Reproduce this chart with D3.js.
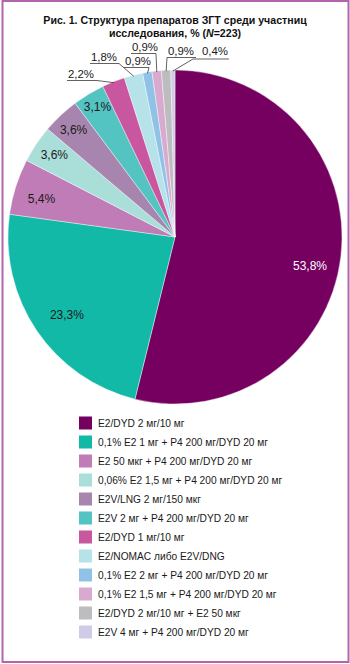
<!DOCTYPE html>
<html>
<head>
<meta charset="utf-8">
<script src="https://cdn.jsdelivr.net/npm/d3@7"></script>
<style>
  html, body { margin: 0; padding: 0; background: #fff; }
  svg { display: block; }
  text { font-family: "Liberation Sans", Arial, Helvetica, sans-serif; }
</style>
</head>
<body>
<svg id="chart" width="350" height="664"></svg>
<script>
// HRT regimens among participants (N = 223), share of respondents, %
const categories = [
  "E2/DYD 2 мг/10 мг",
  "0,1% E2 1 мг + P4 200 мг/DYD 20 мг",
  "E2 50 мкг + P4 200 мг/DYD 20 мг",
  "0,06% E2 1,5 мг + P4 200 мг/DYD 20 мг",
  "E2V/LNG 2 мг/150 мкг",
  "E2V 2 мг + P4 200 мг/DYD 20 мг",
  "E2/DYD 1 мг/10 мг",
  "E2/NOMAC либо E2V/DNG",
  "0,1% E2 2 мг + P4 200 мг/DYD 20 мг",
  "0,1% E2 1,5 мг + P4 200 мг/DYD 20 мг",
  "E2/DYD 2 мг/10 мг + E2 50 мкг",
  "E2V 4 мг + P4 200 мг/DYD 20 мг"
];
const shares = [53.8, 23.3, 5.4, 3.6, 3.6, 3.1, 2.2, 1.8, 0.9, 0.9, 0.9, 0.4];
const colors = [
  "#76005f", "#13b9a7", "#c07cb6", "#a9ded9", "#a885ae", "#54c4c2",
  "#c8579f", "#b6e2e9", "#90c2e7", "#d9aacf", "#bdbdc0", "#d0cce7"
];
const titleLines = ["Рис. 1. Структура препаратов ЗГТ среди участниц", "исследования, % ("];

const fmt = v => d3.format(".1f")(v).replace(".", ",") + "%";

const svg = d3.select("#chart");

// frame
svg.append("rect")
  .attr("x", 2.5).attr("y", 1).attr("width", 346).attr("height", 661)
  .attr("fill", "none").attr("stroke", "#b264ad").attr("stroke-width", 2);

// title
const title = svg.append("g")
  .attr("font-size", 10.6).attr("font-weight", "bold").attr("fill", "#111")
  .attr("text-anchor", "middle");
title.append("text").attr("x", 175).attr("y", 24).text(titleLines[0]);
const t2 = title.append("text").attr("x", 175).attr("y", 37);
t2.append("tspan").text(titleLines[1]);
t2.append("tspan").attr("font-style", "italic").text("N");
t2.append("tspan").text("=223)");

// pie
const cx = 175, cy = 237, R = 167;
const pie = d3.pie().sort(null).value(d => d.v);
const arcs = pie(shares.map((v, i) => ({ v, i })));
const arc = d3.arc().innerRadius(0).outerRadius(R);

const g = svg.append("g").attr("transform", `translate(${cx},${cy})`);
g.selectAll("path.slice")
  .data(arcs)
  .join("path")
  .attr("class", "slice")
  .attr("d", arc)
  .attr("fill", d => colors[d.data.i])
  .attr("stroke", "#fff")
  .attr("stroke-width", 0.4);

// labels inside the wider slices
const insideLayout = {
  0: { r: 138, shift: 5 },
  1: { r: 133, shift: -1.5 },
  2: { r: 139, shift: -1.5 },
  3: { r: 146, shift: 0.5 },
  4: { r: 148, shift: 0 },
  5: { r: 152, shift: 0.5 }
};
Object.entries(insideLayout).forEach(([k, L]) => {
  const d = arcs[+k];
  const a = (d.startAngle + d.endAngle) / 2 + L.shift * Math.PI / 180;
  g.append("text")
    .attr("x", L.r * Math.sin(a))
    .attr("y", -L.r * Math.cos(a))
    .attr("dy", "0.36em")
    .attr("text-anchor", "middle")
    .attr("font-size", 12)
    .attr("fill", +k === 0 ? "#fff" : "#1a1a1a")
    .text(fmt(d.data.v));
});

// callout labels for the narrow slices (underline + leader to the rim)
const callouts = {
  6:  { x: 68,  y: 78, ux0: 67,  ux1: 97,  uy: 80.5, lead: "end" },
  7:  { x: 91,  y: 61, ux0: 90,  ux1: 119, uy: 63.5, lead: "end" },
  8:  { x: 125, y: 65, ux0: 124, ux1: 149, uy: 67.5, lead: "end" },
  9:  { x: 132, y: 51, ux0: 131, ux1: 156, uy: 53.5, lead: "end" },
  10: { x: 168, y: 55, ux0: 167, ux1: 196, uy: 57.5, lead: "start" },
  11: { x: 202, y: 55, ux0: 193, ux1: 229, uy: 59,   lead: "start" }
};
const cg = svg.append("g");
Object.entries(callouts).forEach(([k, L]) => {
  const d = arcs[+k];
  const a = (d.startAngle + d.endAngle) / 2;
  const ex = cx + (R - 1) * Math.sin(a), ey = cy - (R - 1) * Math.cos(a);
  const sx = L.lead === "end" ? L.ux1 : L.ux0;
  cg.append("text")
    .attr("x", L.x).attr("y", L.y)
    .attr("font-size", 11.4).attr("fill", "#1a1a1a")
    .text(fmt(d.data.v));
  cg.append("path")
    .attr("d", `M${L.ux0},${L.uy}H${L.ux1}M${sx},${L.uy}L${ex},${ey}`)
    .attr("fill", "none").attr("stroke", "#3a3a3a").attr("stroke-width", 0.8);
});

// legend
const y = d3.scaleBand().domain(categories).range([413.5, 641.5]);
const lg = svg.append("g");
const row = lg.selectAll("g")
  .data(categories)
  .join("g")
  .attr("transform", d => `translate(79,${y(d) + y.bandwidth() / 2})`);
row.append("rect")
  .attr("x", 0).attr("y", -6.5).attr("width", 13).attr("height", 13)
  .attr("fill", (d, i) => colors[i]);
row.append("text")
  .attr("x", 19).attr("dy", "0.36em")
  .attr("font-size", 10.2).attr("fill", "#1a1a1a")
  .text(d => d);
</script>
</body>
</html>
